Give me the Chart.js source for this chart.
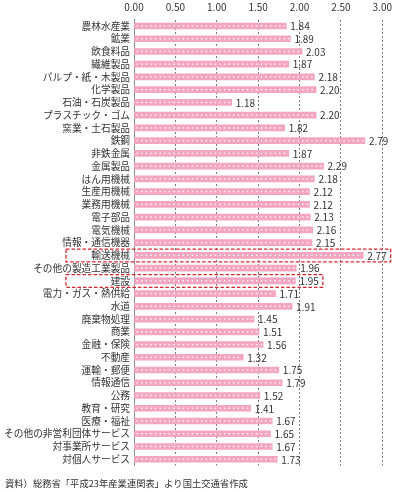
<!DOCTYPE html>
<html><head><meta charset="utf-8">
<script src="https://cdn.jsdelivr.net/npm/chart.js@4"></script>
<style>html,body{margin:0;padding:0;background:#fff;}#wrap{width:398px;height:492px;position:relative;}</style>
</head><body><div id="wrap"><canvas id="c" width="398" height="492"></canvas></div>
<script>
const categories = ["農林水産業","鉱業","飲食料品","繊維製品","パルプ・紙・木製品","化学製品","石油・石炭製品","プラスチック・ゴム","窯業・土石製品","鉄鋼","非鉄金属","金属製品","はん用機械","生産用機械","業務用機械","電子部品","電気機械","情報・通信機器","輸送機械","その他の製造工業製品","建設","電力・ガス・熱供給","水道","廃棄物処理","商業","金融・保険","不動産","運輸・郵便","情報通信","公務","教育・研究","医療・福祉","その他の非営利団体サービス","対事業所サービス","対個人サービス"];
const values = [1.84,1.89,2.03,1.87,2.18,2.20,1.18,2.20,1.82,2.79,1.87,2.29,2.18,2.12,2.12,2.13,2.16,2.15,2.77,1.96,1.95,1.71,1.91,1.45,1.51,1.56,1.32,1.75,1.79,1.52,1.41,1.67,1.65,1.67,1.73];
const highlighted = ["輸送機械","建設"];
const xTicks = [0,0.5,1,1.5,2,2.5,3];
const sourceNote = "資料）総務省「平成23年産業連関表」より国土交通省作成";

const PINK = "#F4A6C1";
const TEXT = "#333333";
const FONT = "'Noto Sans CJK JP', 'Noto Sans', sans-serif";

const decor = {
  id: 'decor',
  afterDatasetsDraw(chart) {
    const ctx = chart.ctx;
    const meta = chart.getDatasetMeta(0);
    ctx.save();
    // white dots on bars
    ctx.fillStyle = "#ffffff";
    meta.data.forEach(bar => {
      const y = bar.y;
      for (let x = bar.base + 2; x < bar.x - 1.5; x += 4.6) {
        ctx.fillRect(x, y - 0.7, 1.4, 1.4);
      }
    });
    // value labels
    ctx.font = "10px " + FONT;
    ctx.fillStyle = TEXT;
    ctx.textBaseline = "middle";
    ctx.textAlign = "left";
    meta.data.forEach((bar, i) => {
      ctx.fillText(values[i].toFixed(2), bar.x + 4, bar.y + 0.5);
    });
    // highlight boxes
    ctx.strokeStyle = "#D9262E";
    ctx.lineWidth = 1.3;
    ctx.setLineDash([3.5, 2]);
    highlighted.forEach(name => {
      const i = categories.indexOf(name);
      const bar = meta.data[i];
      const w = ctx.measureText(values[i].toFixed(2)).width;
      const right = bar.x + 4 + w + 4;
      ctx.strokeRect(66, bar.y - 6.3, right - 66, 12.8);
    });
    ctx.setLineDash([]);
    // source note
    ctx.font = "9.3px " + FONT;
    ctx.fillStyle = TEXT;
    ctx.textBaseline = "middle";
    ctx.fillText(sourceNote, 5, 483);
    ctx.restore();
  }
};

new Chart(document.getElementById('c'), {
  type: 'bar',
  data: {
    labels: categories,
    datasets: [{ data: values, backgroundColor: PINK, borderWidth: 0, barThickness: 6 }]
  },
  options: {
    indexAxis: 'y',
    responsive: false,
    animation: false,
    devicePixelRatio: 1,
    layout: { padding: { left: 0, right: 13, top: 0, bottom: 26.4 } },
    plugins: { legend: { display: false }, tooltip: { enabled: false } },
    scales: {
      x: {
        position: 'top',
        min: 0, max: 3,
        afterBuildTicks(scale) { scale.ticks = xTicks.map(v => ({ value: v })); },
        ticks: {
          callback: v => Number(v).toFixed(2),
          font: { family: FONT, size: 10 },
          color: TEXT,
          padding: 6,
          maxRotation: 0
        },
        grid: {
          color: ctx => ctx.tick && ctx.tick.value === 0 ? 'rgba(0,0,0,0)' : '#7a7a7a',
          lineWidth: 1,
          drawTicks: false
        },
        border: { display: false, dash: [2, 2] },
        afterFit(scale) { scale.height = 19.6; }
      },
      y: {
        ticks: {
          font: { family: FONT, size: 9.7 },
          color: TEXT,
          padding: 4,
          autoSkip: false
        },
        grid: { display: false, drawTicks: false },
        border: { display: true, color: '#8c8c8c', width: 1 },
        afterFit(scale) { scale.width = 134; }
      }
    }
  },
  plugins: [decor]
});
</script></body></html>
